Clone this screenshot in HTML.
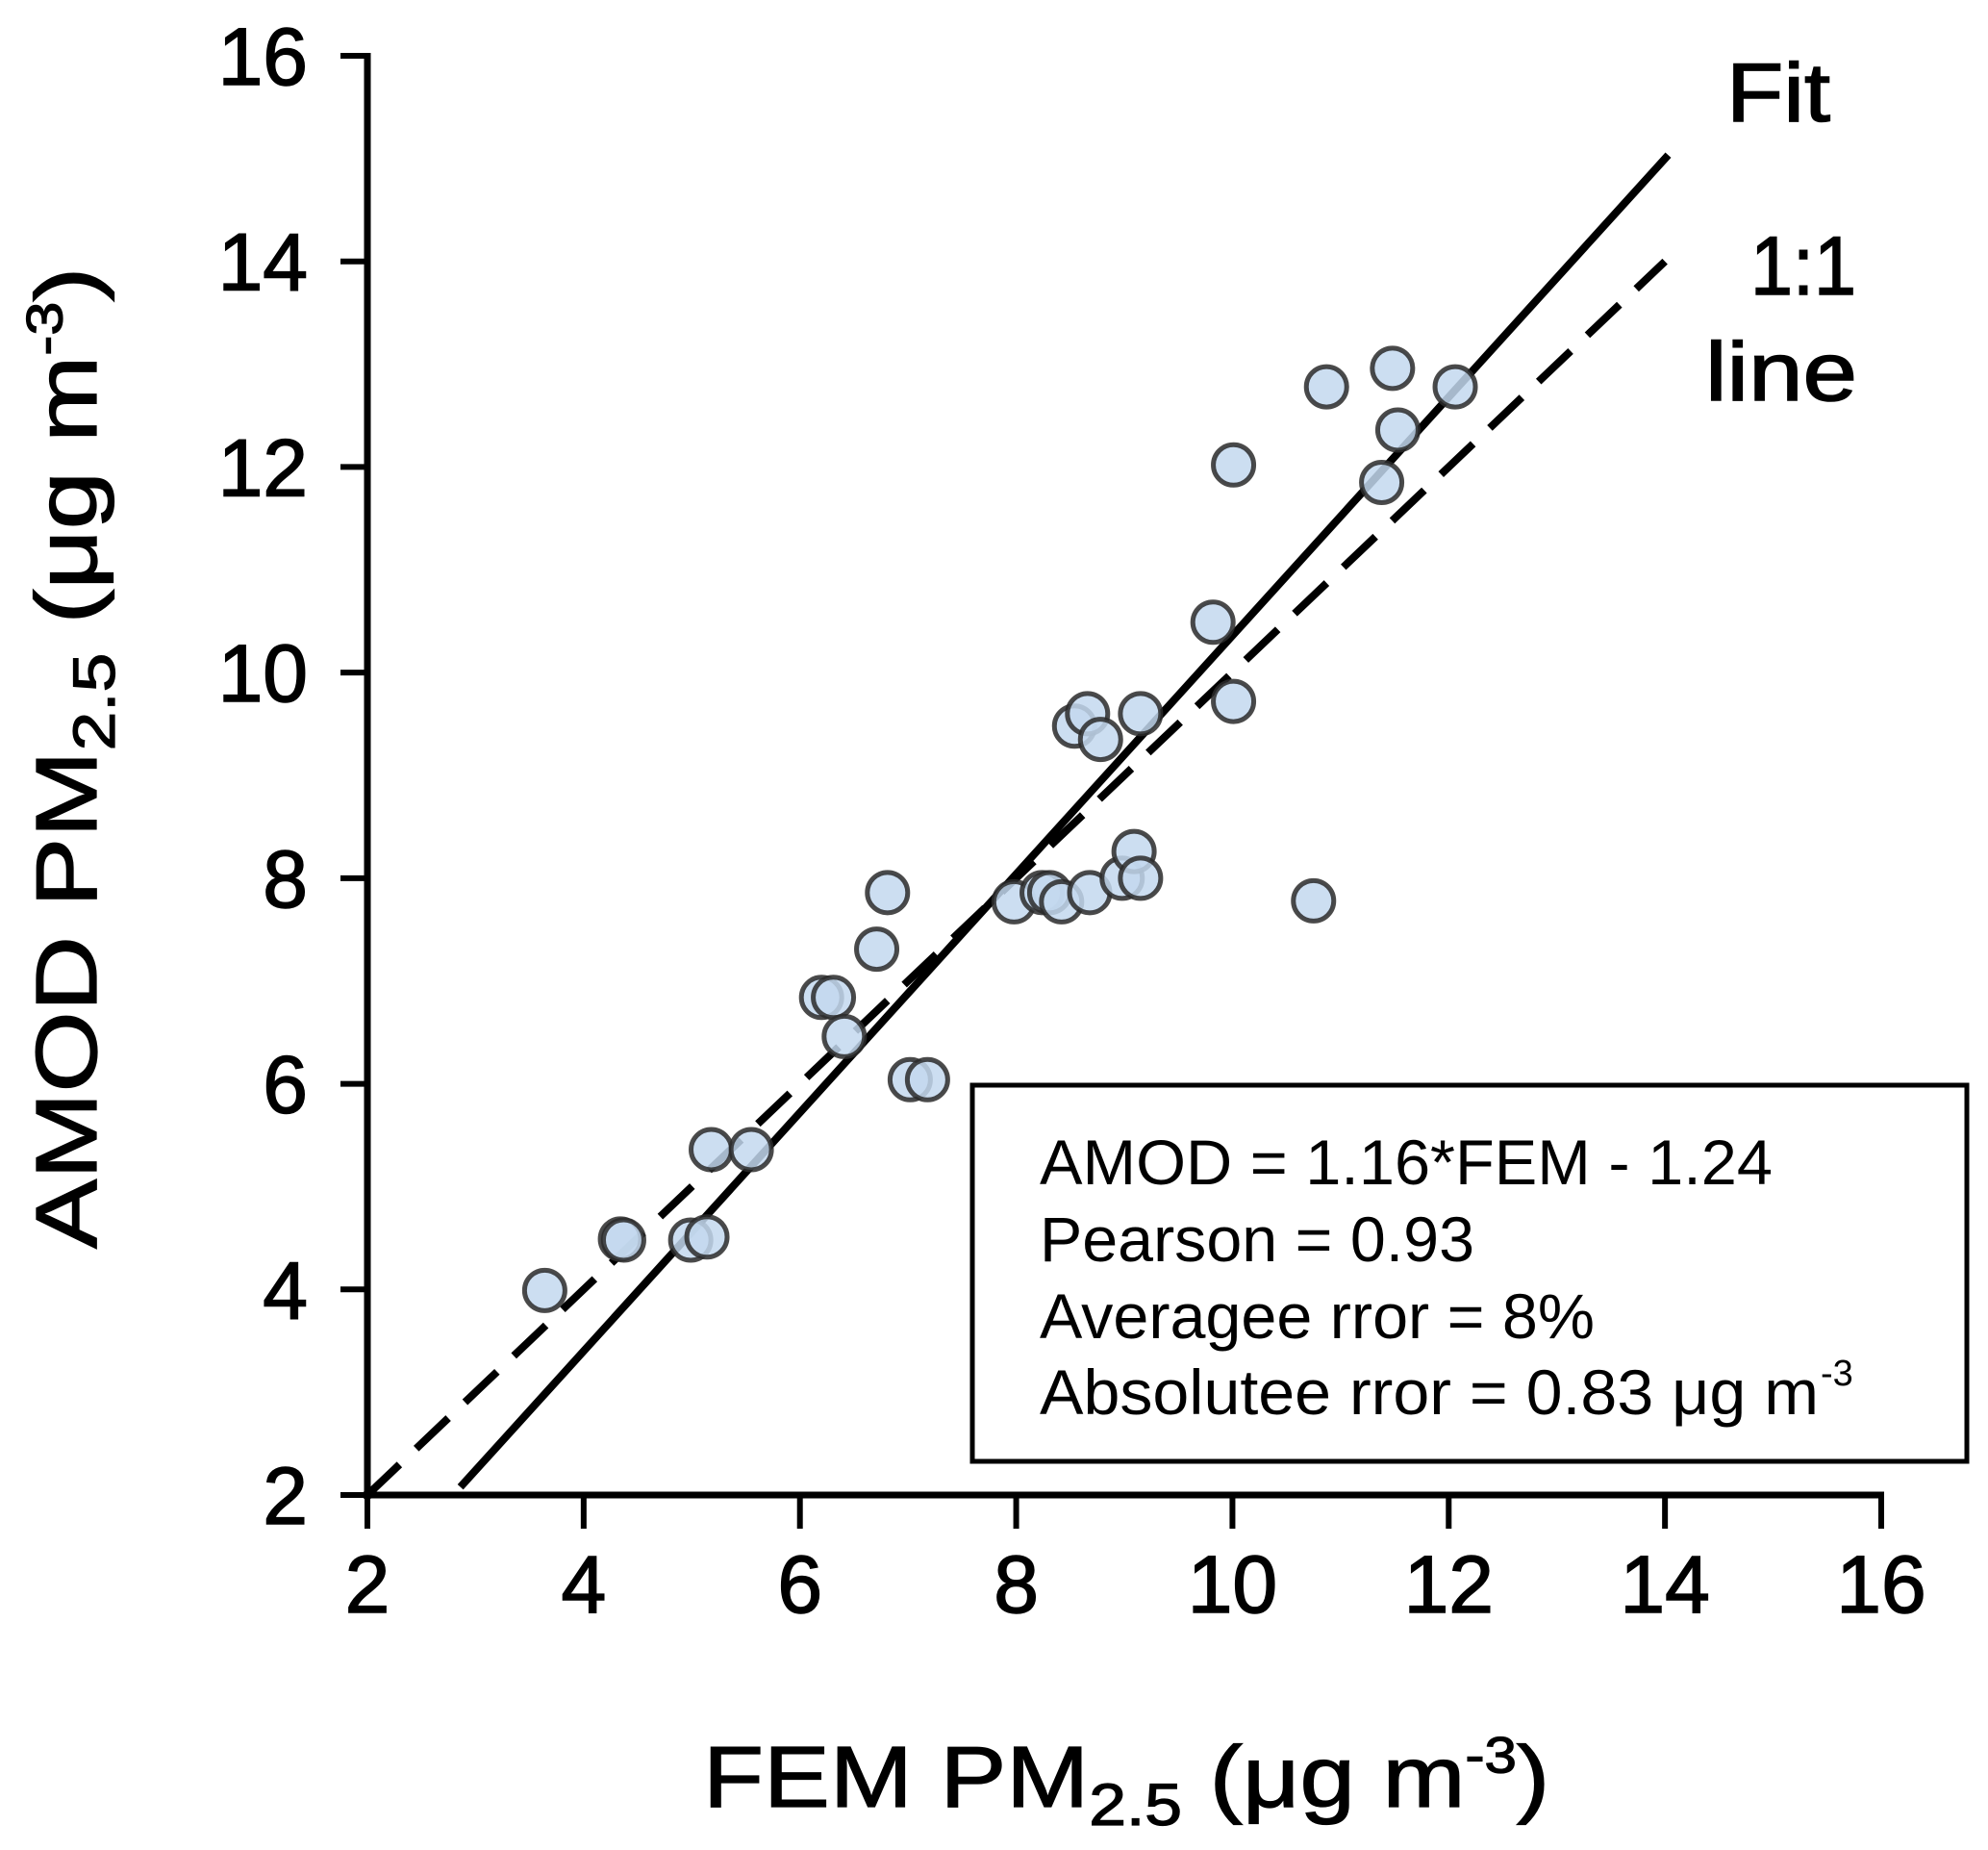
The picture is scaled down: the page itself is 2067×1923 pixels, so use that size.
<!DOCTYPE html>
<html><head><meta charset="utf-8"><style>
html,body{margin:0;padding:0;background:#fff}
svg{display:block;font-family:"Liberation Sans",Arial,sans-serif}
</style></head><body>
<svg id="chart" width="2067" height="1923" viewBox="0 0 2067 1923">
</svg>
<script>
const xVals=[3.64,4.34,4.37,4.99,5.14,5.18,5.55,6.20,6.31,6.41,6.71,6.81,7.02,7.18,7.98,8.24,8.31,8.42,8.68,8.54,8.66,8.78,8.98,9.09,9.15,9.15,9.82,10.01,10.01,10.75,10.87,11.38,11.48,11.53,12.06];
const yVals=[3.99,4.49,4.48,4.48,4.51,5.36,5.36,6.84,6.84,6.46,7.31,7.86,6.04,6.04,7.77,7.86,7.86,7.77,7.86,9.48,9.60,9.35,8.00,8.26,8.00,9.60,10.49,9.72,12.02,7.78,12.78,11.85,12.96,12.36,12.78];
const tickVals=[2,4,6,8,10,12,14,16];
const fitSlope=1.16, fitIntercept=-1.24;
const fitRange=[2.86,14.03];
const oneToOneRange=[2.0,14.0];

const NS="http://www.w3.org/2000/svg";
const svg=document.getElementById('chart');
const X0=382,X1=1956,Y0=1554,Y1=58;
const sx=v=>X0+(v-2)/14*(X1-X0);
const sy=v=>Y0-(v-2)/14*(Y0-Y1);
function mk(tag,attrs,parent){const e=document.createElementNS(NS,tag);for(const k in attrs)e.setAttribute(k,attrs[k]);(parent||svg).appendChild(e);return e;}

const ax=mk('line',{x1:X0,y1:Y1-3,x2:X0,y2:Y0+4,stroke:'#000','stroke-width':7});


const axx=mk('line',{x1:X0-4,y1:Y0,x2:X1+3,y2:Y0,stroke:'#000','stroke-width':7});


tickVals.forEach(v=>{
  const t=mk('line',{x1:X0-28,y1:sy(v),x2:X0,y2:sy(v),stroke:'#000','stroke-width':6});
  
  
  const l=mk('text',{x:320,y:sy(v)+30,'text-anchor':'end','font-size':84,stroke:'#000','stroke-width':1.5});
  l.textContent=v;
  
  
  const tx=mk('line',{x1:sx(v),y1:Y0,x2:sx(v),y2:Y0+35,stroke:'#000','stroke-width':6});
  
  
  const lx=mk('text',{x:sx(v),y:1676,'text-anchor':'middle','font-size':84,stroke:'#000','stroke-width':1.5});
  lx.textContent=v;
  
  
});

const d=mk('line',{x1:sx(oneToOneRange[0]),y1:sy(oneToOneRange[0]),x2:sx(oneToOneRange[1]),y2:sy(oneToOneRange[1]),stroke:'#000','stroke-width':8,'stroke-dasharray':'46 24'});


const f=mk('line',{x1:sx(fitRange[0]),y1:sy(fitSlope*fitRange[0]+fitIntercept),x2:sx(fitRange[1]),y2:sy(fitSlope*fitRange[1]+fitIntercept),stroke:'#000','stroke-width':8});



xVals.forEach((xv,i)=>{
  const c=mk('circle',{cx:sx(xv),cy:sy(yVals[i]),r:21,fill:'#c3d8ef','fill-opacity':0.85,stroke:'#2a2a2a','stroke-opacity':0.85,'stroke-width':5});
  
  
});
</script>
<svg width="2067" height="1923" style="position:absolute;left:0;top:0" font-family="Liberation Sans, Arial, sans-serif">
  <g stroke="#000" stroke-width="1.5">
  <text x="1903" y="126" text-anchor="end" font-size="86" textLength="108" lengthAdjust="spacingAndGlyphs">Fit</text>
  <text x="1930" y="306" text-anchor="end" font-size="86" textLength="110" lengthAdjust="spacingAndGlyphs">1:1</text>
  <text x="1931" y="416" text-anchor="end" font-size="86" textLength="158" lengthAdjust="spacingAndGlyphs">line</text>
  </g>
  <g>
    <rect x="1011" y="1128" width="1034" height="391" fill="#fff" stroke="#000" stroke-width="5"/>
    <text x="1081" y="1231" font-size="66" textLength="762" lengthAdjust="spacingAndGlyphs">AMOD = 1.16*FEM - 1.24</text>
    <text x="1081" y="1311" font-size="66" textLength="452" lengthAdjust="spacingAndGlyphs">Pearson = 0.93</text>
    <text x="1081" y="1391" font-size="66" textLength="577" lengthAdjust="spacingAndGlyphs">Averagee rror = 8%</text>
    <text x="1081" y="1470" font-size="66" textLength="810" lengthAdjust="spacingAndGlyphs">Absolutee rror = 0.83 μg m</text>
    <text x="1893" y="1440" font-size="38">-3</text>
  </g>
  <g stroke="#000" stroke-width="1.2">
  <text transform="translate(731,1878) scale(1.2,1.05)" font-size="86">FEM PM<tspan font-size="58" dy="18">2.5</tspan><tspan dy="-18"> (μg m</tspan><tspan font-size="50" dy="-34">-3</tspan><tspan dy="34">)</tspan></text>
  <text transform="translate(100,1298) rotate(-90) scale(1.26,1.05)" font-size="86">AMOD PM<tspan font-size="58" dy="18">2.5</tspan><tspan dy="-18"> (μg m</tspan><tspan font-size="50" dy="-34">-3</tspan><tspan dy="34">)</tspan></text>
  </g>
</svg>
</body></html>
